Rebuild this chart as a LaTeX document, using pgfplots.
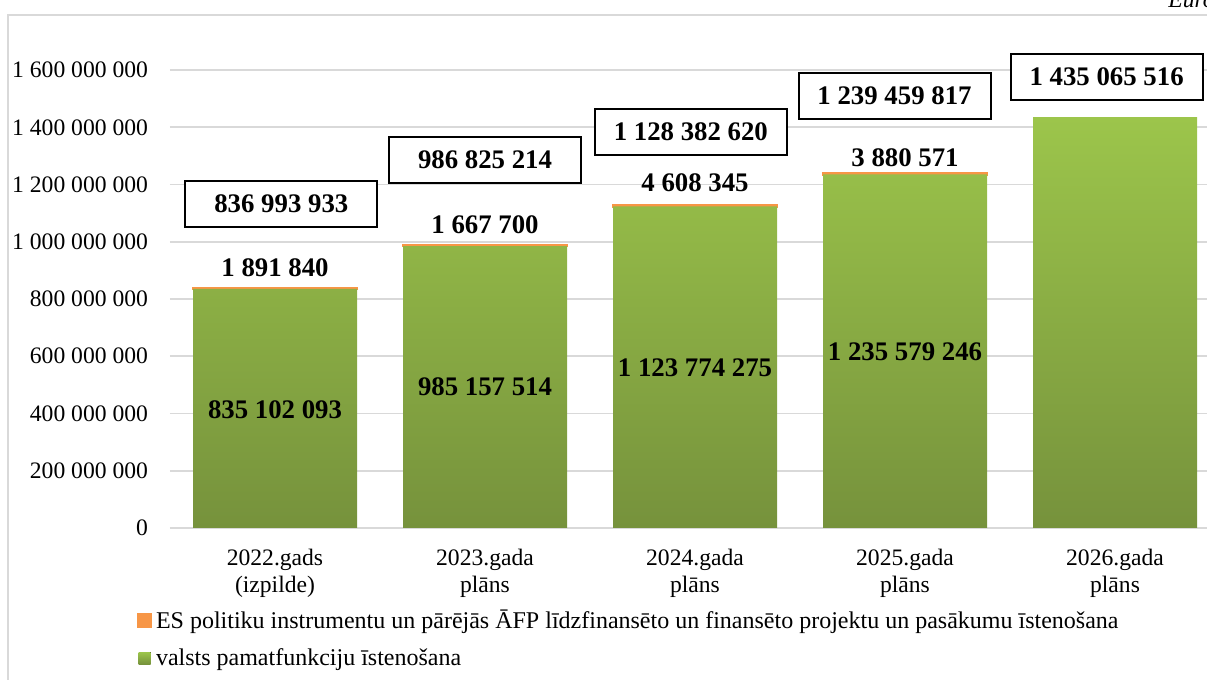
\documentclass[border=0pt]{standalone}
\usepackage{pgfplots}
\pgfplotsset{compat=1.18}
\usepackage{fontspec}
\setmainfont{Liberation Serif}
\definecolor{gridgray}{HTML}{D9D9D9}
\definecolor{gtop}{HTML}{9CC54B}
\definecolor{gbot}{HTML}{76923C}
\definecolor{ora}{HTML}{F79646}
\begin{document}
\begin{tikzpicture}
\path[use as bounding box] (0,0) rectangle (603.5pt,340pt);
\draw[gridgray, line width=1pt] (4pt,0) -- (4pt,332.5pt) -- (610pt,332.5pt);
\node[anchor=base west, font=\fontsize{11.8}{14}\selectfont\itshape, inner sep=0] at (584pt,336pt) {Euro};
\begin{axis}[
  at={(85pt,76pt)}, anchor=south west,
  scale only axis,
  width=518.5pt, height=250.45pt,
  xmin=-0.5, xmax=4.438,
  ymin=0, ymax=1750000000,
  ybar stacked, bar width=82pt,
  clip=false,
  scaled y ticks=false,
  axis line style={draw=none},
  axis x line*=bottom,
  ytick={0,200000000,400000000,600000000,800000000,1000000000,1200000000,1400000000,1600000000},
  yticklabels={0,200 000 000,400 000 000,600 000 000,800 000 000,1 000 000 000,1 200 000 000,1 400 000 000,1 600 000 000},
  xtick={0,1,2,3,4},
  xticklabels={{2022.gads\\(izpilde)},{2023.gada\\plāns},{2024.gada\\plāns},{2025.gada\\plāns},{2026.gada\\plāns}},
  xticklabel style={align=center, font=\fontsize{11.8}{13.5}\selectfont, yshift=-7pt},
  yticklabel style={font=\fontsize{11.8}{14}\selectfont, xshift=-7.5pt},
  major tick length=0pt,
  ymajorgrids, grid style={gridgray, line width=0.8pt},
  legend style={at={(axis description cs:-0.032,-0.155)}, anchor=north west, draw=none,
    font=\fontsize{12}{14}\selectfont, row sep=4.3pt, inner sep=0pt, fill=none},
  legend cell align=left,
  reverse legend,
  legend image code/.code={\fill[#1] (0pt,-3pt) rectangle (6pt,3pt);},
]
\addplot[draw=none, top color=gtop, bottom color=gbot] coordinates {(0,835102093) (1,985157514) (2,1123774275) (3,1235579246) (4,1435065516)};
\addlegendentry{valsts pamatfunkciju īstenošana}
\addplot[fill=ora, draw=ora, line width=1.4pt] coordinates {(0,1891840) (1,1667700) (2,4608345) (3,3880571)};
\addlegendentry{ES politiku instrumentu un pārējās ĀFP līdzfinansēto un finansēto projektu un pasākumu īstenošana}

\coordinate (g0) at (axis cs:0,412000000);
\coordinate (g1) at (axis cs:1,493000000);
\coordinate (g2) at (axis cs:2,559000000);
\coordinate (g3) at (axis cs:3,615000000);
\coordinate (o0) at (axis cs:0,908000000);
\coordinate (o1) at (axis cs:1,1058000000);
\coordinate (o2) at (axis cs:2,1205000000);
\coordinate (o3) at (axis cs:3,1293000000);
\coordinate (t0) at (axis cs:0.03,1132000000);
\coordinate (t1) at (axis cs:1,1285000000);
\coordinate (t2) at (axis cs:1.98,1383000000);
\coordinate (t3) at (axis cs:2.95,1509000000);
\coordinate (t4) at (axis cs:3.96,1576000000);
\end{axis}
\tikzset{lab/.style={font=\fontsize{13.4}{15}\selectfont\bfseries, inner sep=0pt},
         box/.style={font=\fontsize{13.4}{15}\selectfont\bfseries, draw=black, line width=1pt, minimum width=96pt, minimum height=23pt, fill=white}}
\node[lab] at (g0) {835 102 093};
\node[lab] at (g1) {985 157 514};
\node[lab] at (g2) {1 123 774 275};
\node[lab] at (g3) {1 235 579 246};
\node[lab] at (o0) {1 891 840};
\node[lab] at (o1) {1 667 700};
\node[lab] at (o2) {4 608 345};
\node[lab] at (o3) {3 880 571};
\node[box] at (t0) {836 993 933};
\node[box] at (t1) {986 825 214};
\node[box] at (t2) {1 128 382 620};
\node[box] at (t3) {1 239 459 817};
\node[box] at (t4) {1 435 065 516};
\end{tikzpicture}
\end{document}
